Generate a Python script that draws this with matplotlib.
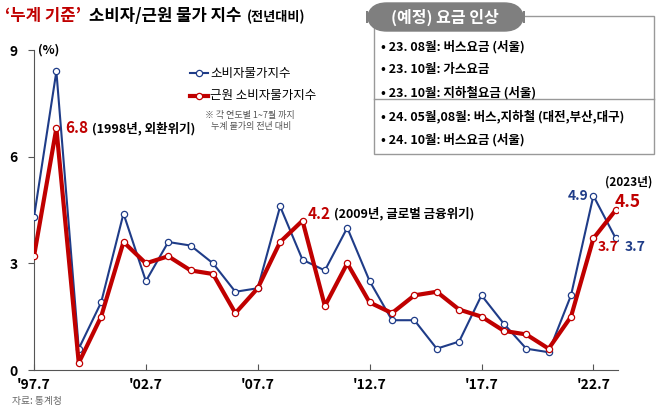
import matplotlib
matplotlib.use("Agg")
import matplotlib.pyplot as plt
from matplotlib.patches import Rectangle, FancyBboxPatch
from matplotlib.lines import Line2D

plt.rcParams['font.family'] = ['Noto Sans CJK KR', 'DejaVu Sans']

# 데이터 (1~7월 누계, 전년대비 %)
years = list(range(1997, 2024))
cpi = [4.3, 8.4, 0.6, 1.9, 4.4, 2.5, 3.6, 3.5, 3.0, 2.2, 2.3, 4.6, 3.1, 2.8,
       4.0, 2.5, 1.4, 1.4, 0.6, 0.8, 2.1, 1.3, 0.6, 0.5, 2.1, 4.9, 3.7]
core = [3.2, 6.8, 0.2, 1.5, 3.6, 3.0, 3.2, 2.8, 2.7, 1.6, 2.3, 3.6, 4.2, 1.8,
        3.0, 1.9, 1.6, 2.1, 2.2, 1.7, 1.5, 1.1, 1.0, 0.6, 1.5, 3.7, 4.5]
tick_years = [1997, 2002, 2007, 2012, 2017, 2022]
tick_labels = ["'97.7", "'02.7", "'07.7", "'12.7", "'17.7", "'22.7"]
legend_labels = ["소비자물가지수", "근원 소비자물가지수"]
notes = ["23. 08월: 버스요금 (서울)", "23. 10월: 가스요금", "23. 10월: 지하철요금 (서울)",
         "24. 05월,08월: 버스,지하철 (대전,부산,대구)", "24. 10월: 버스요금 (서울)"]

blue = "#1f3c88"
red = "#c00000"
W, H = 658, 407

fig = plt.figure(figsize=(W / 100, H / 100), dpi=100)
ax = fig.add_axes([34 / W, (H - 370) / H, (618 - 34) / W, 320 / H])

ax.plot(years, cpi, color=blue, lw=1.5, marker='o', ms=4.5, mfc='white', mec=blue, mew=0.9, zorder=3)
ax.plot(years, core, color=red, lw=3, marker='o', ms=4.5, mfc='white', mec=red, mew=0.9, zorder=4)

ax.set_xlim(1997, 2023.1)
ax.set_ylim(0, 9)
ax.set_yticks([0, 3, 6, 9])
ax.set_yticklabels(["0", "3", "6", "9"], fontsize=10, fontweight='bold')
ax.set_xticks(tick_years)
ax.set_xticklabels(tick_labels, fontsize=10, fontweight='bold')
ax.tick_params(axis='x', direction='in', length=4, pad=6, color='#555555')
ax.tick_params(axis='y', direction='out', length=4, pad=8, color='#555555')
for s in ['top', 'right']:
    ax.spines[s].set_visible(False)
for s in ['left', 'bottom']:
    ax.spines[s].set_color('#555555')

ax.text(1997.2, 9, "(%)", fontsize=9, fontweight='bold', va='center')

# 주석
ax.text(1998.4, 6.8, "6.8", color=red, fontsize=11, fontweight='bold', va='center')
ax.text(1999.6, 6.8, "(1998년, 외환위기)", fontsize=9, fontweight='bold', va='center')
ax.text(2009.25, 4.4, "4.2", color=red, fontsize=11, fontweight='bold', va='center')
ax.text(2010.4, 4.4, "(2009년, 글로벌 금융위기)", fontsize=9, fontweight='bold', va='center')
ax.text(2021.8, 4.9, "4.9", color=blue, fontsize=10, fontweight='bold', va='center', ha='right')
ax.text(2022.2, 3.45, "3.7", color=red, fontsize=10, fontweight='bold', va='center')
ax.text(2023.4, 3.45, "3.7", color=blue, fontsize=10, fontweight='bold', va='center', clip_on=False)
ax.text(2022.95, 4.73, "4.5", color=red, fontsize=12.5, fontweight='bold', va='center', clip_on=False)
ax.text(2022.5, 5.3, "(2023년)", fontsize=8.5, fontweight='bold', va='center', clip_on=False)

# 범례 (직접 그림)
for i, (lab, c, lw) in enumerate(zip(legend_labels, [blue, red], [1.5, 3])):
    y = 1 - [73, 96][i] / H
    fig.add_artist(Line2D([190 / W, 208 / W], [y, y], transform=fig.transFigure, color=c, lw=lw))
    fig.add_artist(Line2D([199 / W], [y], transform=fig.transFigure, color=c, marker='o', ms=4.5,
                          mfc='white', mec=c, mew=0.9))
    fig.text(210 / W, y, lab, fontsize=9, va='center')
fig.text(205 / W, 1 - 121 / H, "※ 각 연도별 1~7월 까지\n   누계 물가의 전년 대비", fontsize=6.5,
         color='#555555', va='center', linespacing=1.3)

# 제목 (조각을 이어 붙임)
fig.canvas.draw()
t1 = fig.text(5 / W, 1 - 16 / H, "‘누계 기준’", color=red, fontsize=12, fontweight='bold', va='center')
fig.canvas.draw()
x1 = t1.get_window_extent().x1
t2 = fig.text((x1 + 8) / W, 1 - 16 / H, "소비자/근원 물가 지수", fontsize=12, fontweight='bold', va='center')
fig.canvas.draw()
x2 = t2.get_window_extent().x1
fig.text((x2 + 5) / W, 1 - 17 / H, "(전년대비)", fontsize=9.5, fontweight='bold', va='center')
fig.text(12 / W, 1 - 401 / H, "자료: 통계청", fontsize=7, color='#666666', va='center')

# 요금 인상 박스
fig.patches.append(Rectangle((374 / W, 1 - 154 / H), 280 / W, 138 / H, transform=fig.transFigure,
                             fc='white', ec='#999999', lw=1))
fig.add_artist(Line2D([374 / W, 654 / W], [1 - 99 / H, 1 - 99 / H], transform=fig.transFigure,
                      color='#999999', lw=1))
fig.patches.append(FancyBboxPatch((367 / W, 1 - 31 / H), 157 / W, 28 / H, transform=fig.transFigure,
                                  boxstyle="round,pad=0,rounding_size=0.03", fc='#7f7f7f', ec='#7f7f7f',
                                  mutation_aspect=W / H))
fig.text(445 / W, 1 - 17 / H, "(예정) 요금 인상", color='white', fontsize=11.5, fontweight='bold',
         ha='center', va='center')
for i, n in enumerate(notes):
    y = [47, 70, 93, 117, 140][i]
    fig.text(381 / W, 1 - y / H, "• " + n, fontsize=9, fontweight='bold', va='center')

fig.savefig("out.png", dpi=100)
